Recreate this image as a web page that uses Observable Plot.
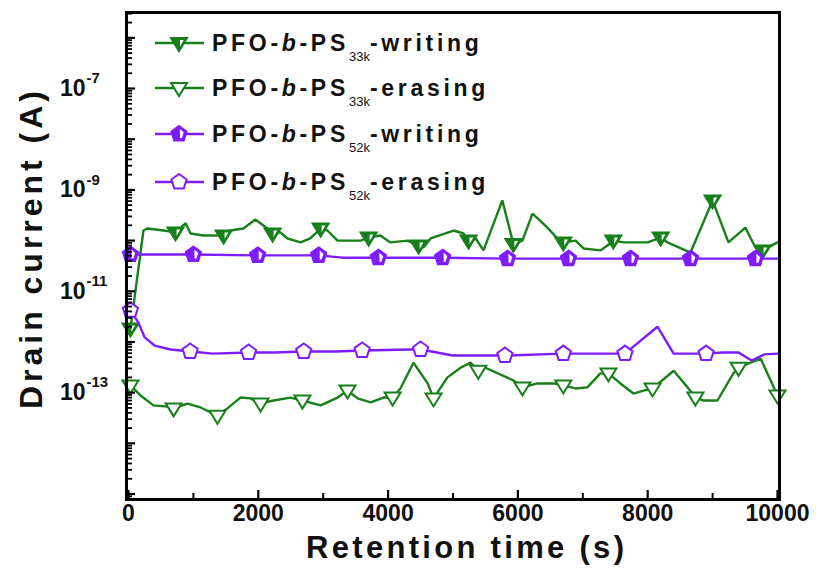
<!DOCTYPE html>
<html><head><meta charset="utf-8">
<script src="https://cdn.jsdelivr.net/npm/d3@7"></script>
<script src="https://cdn.jsdelivr.net/npm/@observablehq/plot@0.6"></script>
<style>
body{margin:0;background:#fff;}
#chart{position:relative;width:821px;height:580px;}
</style></head><body><div id="chart"></div>
<script>
// ---------- data (time in s, drain current in A) ----------
const w33Time = [30,230,290,540,725,880,955,1155,1370,1465,1570,1770,1955,2140,2220,2340,2450,2650,2800,2960,3065,3220,3575,3700,3880,4035,4300,4470,4545,4655,5010,5160,5240,5350,5470,5760,5930,6070,6225,6455,6610,6700,6890,7010,7270,7380,7470,7630,8000,8200,8305,8660,9000,9245,9505,9660,9770,10000];
const w33Current = [1.85e-12,1.58e-10,1.73e-10,1.58e-10,1.45e-10,2.2e-10,1.38e-10,1.26e-10,1.26e-10,1.26e-10,1.58e-10,1.73e-10,2.6e-10,1.73e-10,1.38e-10,1.45e-10,1.1e-10,9.2e-11,1.1e-10,1.73e-10,1.58e-10,1.0e-10,1.0e-10,1.15e-10,1.26e-10,9.2e-11,1.0e-10,8.0e-11,7.3e-11,1.1e-10,1.58e-10,1.38e-10,1.0e-10,1.1e-10,6.4e-11,6.2e-10,8.6e-11,1.0e-10,3.4e-10,1.8e-10,1.1e-10,9.2e-11,1.0e-10,7.0e-11,6.4e-11,8.0e-11,1.0e-10,9.2e-11,9.2e-11,1.15e-10,9.2e-11,5.8e-11,6.2e-10,9.2e-11,1.8e-10,7.3e-11,6.4e-11,9.2e-11];
const w33Markers = [30,725,1465,2220,2960,3700,4470,5240,5930,6700,7470,8200,9000,9770];

const e33Time = [30,185,385,600,695,910,1110,1370,1525,1725,1880,2035,2235,2495,2680,2960,3220,3375,3530,3730,3930,4070,4190,4390,4610,4700,4915,5115,5270,5390,5500,5930,6070,6300,6550,6700,6890,7070,7270,7395,7580,7780,7935,8075,8400,8615,8735,8860,9075,9320,9400,9585,9740,10000];
const e33Current = [1.39e-13,8.8e-14,5.6e-14,5.3e-14,4.9e-14,6.1e-14,5.1e-14,3.5e-14,4.9e-14,8.0e-14,7.7e-14,6.1e-14,7.0e-14,8.0e-14,7.0e-14,5.6e-14,8.0e-14,1.1e-13,7.7e-14,6.4e-14,8.0e-14,8.0e-14,1.21e-13,3.9e-13,1.52e-13,7.7e-14,2.0e-13,3.1e-13,3.9e-13,2.7e-13,3.1e-13,1.74e-13,1.27e-13,1.52e-13,1.52e-13,1.39e-13,1.21e-13,1.27e-13,2.4e-13,2.4e-13,1.52e-13,9.6e-14,1.1e-13,1.21e-13,2.7e-13,1.27e-13,8.0e-14,7.0e-14,7.0e-14,2.4e-13,3.1e-13,3.9e-13,4.7e-13,8.8e-14];
const e33Markers = [30,695,1370,2035,2680,3375,4070,4700,5390,6070,6700,7395,8075,8735,9400,10000];

const w52Time = [30,1000,1990,2930,3300,3850,4840,5840,6780,7735,8660,9660,10000];
const w52Current = [5.3e-11,5.3e-11,5.1e-11,5.1e-11,4.6e-11,4.6e-11,4.6e-11,4.4e-11,4.4e-11,4.4e-11,4.4e-11,4.4e-11,4.4e-11];
const w52Markers = [30,1000,1990,2930,3850,4840,5840,6780,7735,8660,9660];

const e52Time = [30,150,250,400,650,950,1300,1850,2250,2700,3200,3600,4350,4500,5000,5800,6700,7650,8150,8400,8900,9150,9400,9600,9800,10000];
const e52Current = [4.2e-12,2.43e-12,1.23e-12,8.5e-13,7.1e-13,6.5e-13,5.9e-13,6.2e-13,6.2e-13,6.5e-13,6.5e-13,6.8e-13,7.1e-13,7.1e-13,5.4e-13,5.4e-13,5.9e-13,5.9e-13,2.0e-12,5.9e-13,5.9e-13,6.2e-13,6.2e-13,4.3e-13,5.7e-13,5.9e-13];
const e52Markers = [30,950,1850,2700,3600,4500,5800,6700,7650,8900];

const xTickValues = [0,2000,4000,6000,8000,10000];
const xMinorValues = [1000,3000,5000,7000,9000];
const yLabelExponents = [-7,-9,-11,-13];
const legendSub = ["33k","33k","52k","52k"];
const legendSuffix = ["-writing","-erasing","-writing","-erasing"];
const xTitle = "Retention time (s)";
const yTitle = "Drain current (A)";

// ---------- styling ----------
const GREEN = "#17801a";
const PURPLE = "#7f1cff";
const FONT = "'Liberation Sans', Arial, sans-serif";
const W = 821, H = 580;
const M = {top: 12, right: 42, bottom: 81, left: 126};
const innerW = W - M.left - M.right;
const innerH = H - M.top - M.bottom;

const zip = (ts, vs) => ts.map((t, i) => ({t, I: vs[i]}));
const pick = (rows, ms) => rows.filter(d => ms.includes(d.t));
const w33 = zip(w33Time, w33Current), e33 = zip(e33Time, e33Current);
const w52 = zip(w52Time, w52Current), e52 = zip(e52Time, e52Current);

// custom symbols
const rOf = s => Math.sqrt(s / Math.PI);
const triDown = {draw(c, s){const r = rOf(s); c.moveTo(-r, -0.62*r); c.lineTo(r, -0.62*r); c.lineTo(0, r); c.closePath();}};
const triDownHalf = {draw(c, s){const r = rOf(s); c.moveTo(1, -0.62*r + 2); c.lineTo(r - 3.3, -0.62*r + 2); c.lineTo(1, r - 4.6); c.closePath();}};
const penta = {draw(c, s){const r = rOf(s); for (let k = 0; k < 5; k++){const a = -Math.PI/2 + k*2*Math.PI/5; const x = r*Math.cos(a), y = r*Math.sin(a); k ? c.lineTo(x, y) : c.moveTo(x, y);} c.closePath();}};
const pentaHalf = {draw(c, s){const r = rOf(s)*0.62; const a1 = -Math.PI/2 + 2*Math.PI/5, a2 = -Math.PI/2 + 4*Math.PI/5;
  c.moveTo(1, -r); c.lineTo(r*Math.cos(a1), r*Math.sin(a1)); c.lineTo(r*Math.cos(a2), r*Math.sin(a2)); c.lineTo(1, r*Math.sin(a2)); c.closePath();}};

// log ticks
const yDomain = [7.8e-16, 3.16e-6];
const yMajor = d3.range(-15, -5).map(e => Math.pow(10, e));
const yMinor = [];
for (let e = -16; e <= -6; e++) for (let k = 2; k <= 9; k++) { const v = k * Math.pow(10, e); if (v > yDomain[0] && v < yDomain[1]) yMinor.push(v); }

const seriesMarks = (rows, markers, color, sym, half) => {
  const ms = [
    Plot.line(rows, {x: "t", y: "I", stroke: color, strokeWidth: 2.4, strokeLinejoin: "miter"}),
    Plot.dot(pick(rows, markers), {x: "t", y: "I", symbol: sym, r: 8, fill: half ? color : "white", stroke: color, strokeWidth: 2})
  ];
  if (half) ms.push(Plot.dot(pick(rows, markers), {x: "t", y: "I", symbol: half, r: 8, fill: "white", stroke: "none"}));
  return ms;
};

const chart = Plot.plot({
  width: W, height: H,
  marginTop: M.top, marginRight: M.right, marginBottom: M.bottom, marginLeft: M.left,
  style: {fontFamily: FONT, background: "white", color: "#111", overflow: "visible"},
  x: {domain: [-31, 10031], axis: null},
  y: {type: "log", domain: yDomain, axis: null},
  marks: [
    ...seriesMarks(w33, w33Markers, GREEN, triDown, triDownHalf),
    ...seriesMarks(e33, e33Markers, GREEN, triDown, null),
    ...seriesMarks(w52, w52Markers, PURPLE, penta, pentaHalf),
    ...seriesMarks(e52, e52Markers, PURPLE, penta, null),
    // ticks (inward)
    Plot.tickY(yMajor, {y: d => d, insetRight: innerW - 9, stroke: "black", strokeWidth: 2.2}),
    Plot.tickY(yMinor, {y: d => d, insetRight: innerW - 6, stroke: "black", strokeWidth: 1.8}),
    Plot.tickX(xTickValues, {x: d => d, insetTop: innerH - 9, stroke: "black", strokeWidth: 2.2}),
    Plot.tickX(xMinorValues, {x: d => d, insetTop: innerH - 6, stroke: "black", strokeWidth: 2}),
    Plot.frame({stroke: "black", strokeWidth: 3}),
    // tick labels
    Plot.text(xTickValues, {x: d => d, frameAnchor: "bottom", dy: 21, text: d => String(d), fontSize: 23, fontWeight: "bold", fill: "#111"}),
    Plot.text(yLabelExponents, {y: e => Math.pow(10, e), frameAnchor: "left", dx: -41, textAnchor: "end", text: () => "10", fontSize: 23, fontWeight: "bold", fill: "#111"}),
    Plot.text(yLabelExponents, {y: e => Math.pow(10, e), frameAnchor: "left", dx: -40, dy: -10, textAnchor: "start", text: e => String(e), fontSize: 15, fontWeight: "bold", fill: "#111"}),
    // axis titles
    Plot.text([xTitle], {frameAnchor: "bottom", textAnchor: "middle", dx: 12, dy: 58, text: d => d, fontSize: 31, fontWeight: "bold", fill: "#111"}),
    Plot.text([yTitle], {frameAnchor: "left", textAnchor: "middle", dx: -95, dy: -6, rotate: -90, text: d => d, fontSize: 32, fontWeight: "bold", fill: "#111"})
  ]
});
document.getElementById("chart").appendChild(chart);

// stretch the two axis titles to the reference's lengths
d3.select(chart).selectAll("text").each(function() {
  if (this.textContent === xTitle) d3.select(this).attr("textLength", 318).attr("lengthAdjust", "spacing");
  if (this.textContent === yTitle) d3.select(this).attr("textLength", 318).attr("lengthAdjust", "spacing");
});

// ---------- legend (inside plot, top-left) ----------
const legendColor = [GREEN, GREEN, PURPLE, PURPLE];
const legendSym = [[triDown, triDownHalf], [triDown, null], [penta, pentaHalf], [penta, null]];
const legendY = [43, 88, 134, 182];
const g = d3.select(chart).append("g").attr("font-family", FONT).attr("fill", "#111").attr("text-anchor", "start");
legendSub.forEach((sub, i) => {
  const cy = legendY[i], col = legendColor[i], [sym, half] = legendSym[i];
  g.append("line").attr("x1", 155).attr("x2", 204).attr("y1", cy).attr("y2", cy).attr("stroke", col).attr("stroke-width", 2.4);
  g.append("path").attr("d", d3.symbol(sym, 64*Math.PI)()).attr("transform", `translate(179,${cy})`)
    .attr("fill", half ? col : "white").attr("stroke", col).attr("stroke-width", 2);
  if (half) g.append("path").attr("d", d3.symbol(half, 64*Math.PI)()).attr("transform", `translate(179,${cy})`).attr("fill", "white");
  const t = g.append("text").attr("x", 212).attr("y", cy + 8).attr("font-size", 23).attr("font-weight", "bold").attr("letter-spacing", "3.7px");
  t.append("tspan").text("PFO-");
  t.append("tspan").attr("font-style", "italic").text("b");
  t.append("tspan").text("-PS");
  t.append("tspan").attr("font-size", 13).attr("font-weight", "normal").attr("letter-spacing", "0px").attr("dy", 10).text(sub);
  t.append("tspan").attr("dy", -10).text(legendSuffix[i]);
});
</script></body></html>
